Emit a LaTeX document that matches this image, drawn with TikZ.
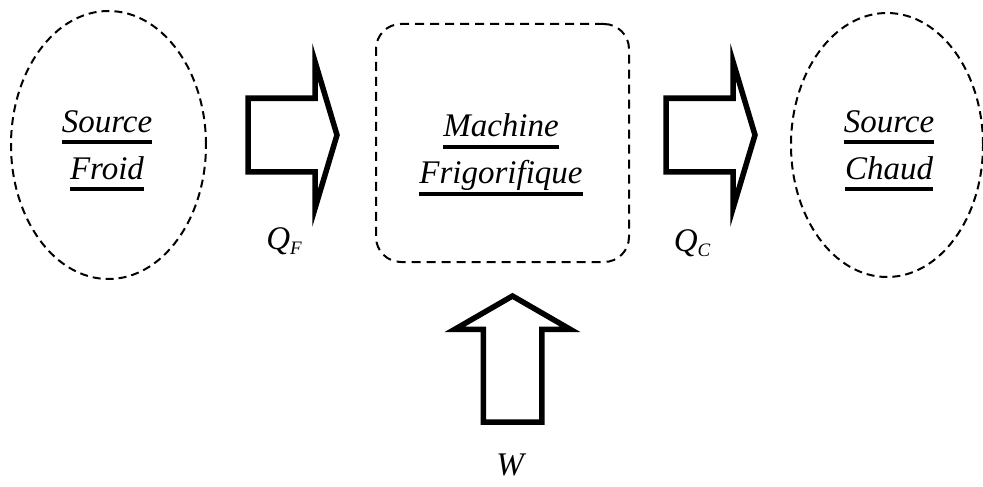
\documentclass[tikz,border=0pt]{standalone}
\usepackage{fontspec}
\setmainfont{Liberation Serif}
\usetikzlibrary{shapes.geometric,shapes.arrows}

% thick underline at a fixed distance below the baseline
\newcommand{\ulbold}[1]{\vtop{\hbox{\raisebox{0pt}[\height][0pt]{#1}}\kern8pt\hrule height 4pt}}
% heat symbol with a lowered index
\newcommand{\heatsub}[2]{#1\raisebox{-5pt}{\fontsize{19}{19}\selectfont #2}}

\begin{document}
\begin{tikzpicture}[
  x=1pt, y=-1pt,
  font=\fontsize{33}{47}\selectfont\itshape,
  src/.style={draw, ellipse, line width=2pt, dash pattern=on 8pt off 5pt,
              inner sep=0pt},
  machbox/.style={draw, rectangle, rounded corners=25pt, line width=2pt,
              dash pattern=on 9pt off 6pt, inner sep=0pt,
              minimum width=253pt, minimum height=238pt},
  txt/.style={align=center},
  heatarrow/.style={single arrow, draw, fill=white, line width=5.5pt,
              inner xsep=0pt, inner ysep=34pt, outer sep=0pt, anchor=tail,
              minimum height=89pt,
              single arrow head extend=36pt, single arrow tip angle=146.6},
  workarrow/.style={heatarrow, rotate=90, inner ysep=26.5pt,
              minimum height=126pt,
              single arrow head extend=28.5pt, single arrow tip angle=120},
  lbl/.style={anchor=base}
]
\useasboundingbox (0,0) rectangle (983,487);

% reservoirs and machine
\node[src, minimum width=195pt, minimum height=268pt] (froid) at (108.5,145) {};
\node[machbox] (machine) at (502.5,143) {};
\node[src, minimum width=192pt, minimum height=264pt] (chaud) at (887,145) {};

\node[txt] (froidtxt)   at (107,151) {\ulbold{Source}\\\ulbold{Froid}};
\node[txt] (machinetxt) at (501,155) {\ulbold{Machine}\\\ulbold{Frigorifique}};
\node[txt] (chaudtxt)   at (889,151) {\ulbold{Source}\\\ulbold{Chaud}};

% energy flows
\node[heatarrow] (qfarrow) at (248,135) {};
\node[heatarrow] (qcarrow) at (666,135) {};
\node[workarrow] (warrow)  at (512.5,422) {};

\node[lbl] (qf) at (284,249) {\heatsub{Q}{F}};
\node[lbl] (qc) at (692,251) {\heatsub{Q}{C}};
\node[lbl] (w)  at (510,475) {W};
\end{tikzpicture}
\end{document}
